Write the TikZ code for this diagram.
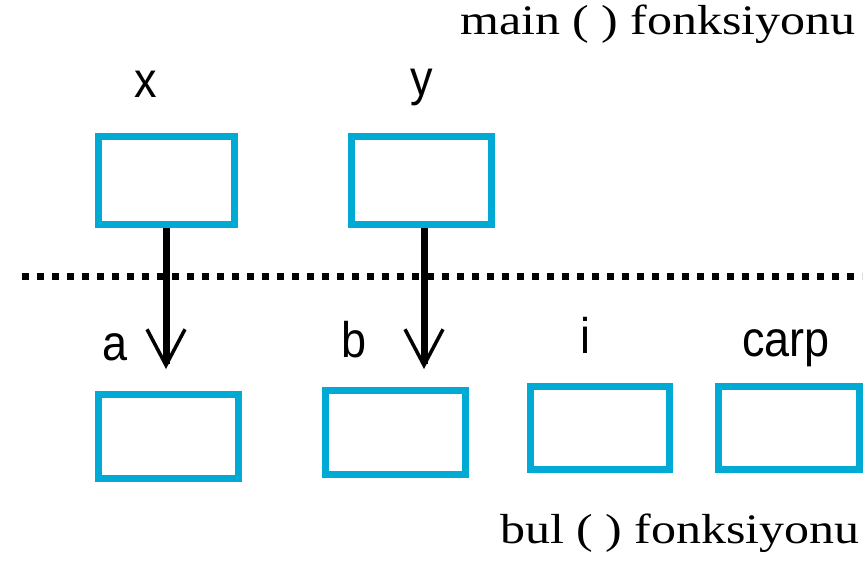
\documentclass[tikz,border=0pt]{standalone}
\usepackage{fontspec}
\setmainfont{Liberation Serif}
\setsansfont{Liberation Sans}
\usetikzlibrary{arrows.meta}
\definecolor{boxblue}{HTML}{00AAD4}
\tikzset{
  varbox/.style={draw=boxblue, line width=7pt, rectangle, minimum width=140pt, minimum height=86pt, inner sep=0pt},
  varlabel/.style={anchor=base, inner sep=0pt, font=\sffamily\fontsize{50}{50}\selectfont},
  title/.style={anchor=base west, inner sep=0pt, font=\rmfamily\fontsize{42}{42}\selectfont},
  passarrow/.style={line width=7pt, -{Straight Barb[length=36pt, width=38pt, line width=3.5pt]}},
  divider/.style={line width=7pt, dash pattern=on 7pt off 8pt}
}
\begin{document}
\begin{tikzpicture}[x=1pt, y=-1pt]
\useasboundingbox (0,0) rectangle (867,566);
% titles
\node[title] (tmain) at (460,34) {\scalebox{1.19}[1]{main ( ) fonksiyonu}};
\node[title] (tbul) at (500,543) {\scalebox{1.19}[1]{bul ( ) fonksiyonu}};
% top boxes
\node[varbox, minimum width=136pt, minimum height=88pt] (bx) at (166.5,180.5) {};
\node[varbox, minimum height=88pt] (by) at (421.5,180.5) {};
% bottom boxes
\node[varbox, minimum height=84pt] (ba) at (168.5,436.5) {};
\node[varbox, minimum height=84pt] (bb) at (395.5,432.5) {};
\node[varbox, minimum width=139pt, minimum height=83pt] (bi) at (600,428) {};
\node[varbox, minimum width=141pt, minimum height=83pt] (bc) at (789,428) {};
% labels
\node[varlabel] (lx) at (146,97) {\scalebox{0.9}[1]{x}};
\node[varlabel] (ly) at (422,95) {\scalebox{0.9}[1]{y}};
\node[varlabel] (la) at (115,360) {\scalebox{0.9}[1]{a}};
\node[varlabel] (lb) at (354,357) {\scalebox{0.9}[1]{b}};
\node[varlabel] (li) at (585,353) {\scalebox{0.9}[1]{i}};
\node[varlabel] (lc) at (786,356) {\scalebox{0.9}[1]{carp}};
% dotted divider
\coordinate (dl) at (22,276);
\coordinate (dr) at (862,276);
\draw[divider] (dl) -- (dr);
% arrows
\coordinate (ta) at (166,369);
\coordinate (tb) at (424,369);
\draw[passarrow] (bx.south -| ta) -- (ta);
\draw[passarrow] (by.south -| tb) -- (tb);
\end{tikzpicture}
\end{document}
